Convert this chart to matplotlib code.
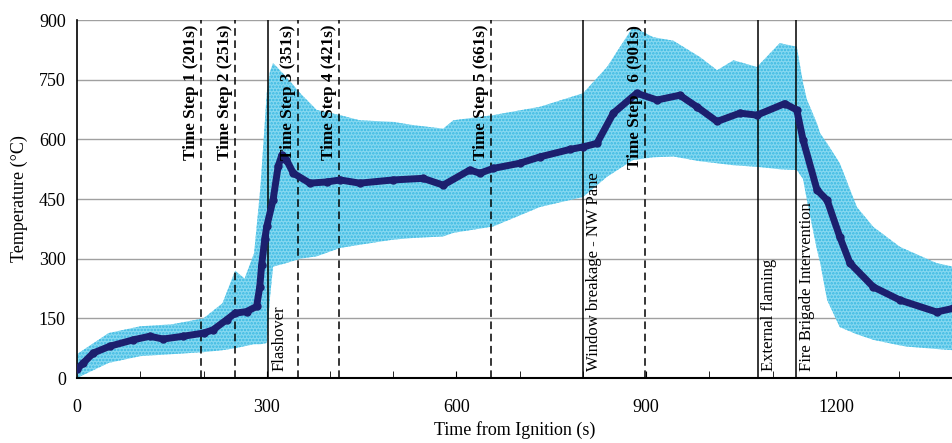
import matplotlib
matplotlib.use("Agg")
import matplotlib.pyplot as plt

# Mean temperature (time s, temp °C)
mean_t = [0, 10, 26, 52, 89, 115, 136, 168, 200, 215, 237, 250, 268, 284, 289, 292, 297,
          300, 310, 318, 324, 331, 342, 368, 395, 416, 447, 500, 547, 579, 621, 637, 658,
          700, 732, 780, 800, 822, 848, 885, 917, 953, 980, 1012, 1048, 1075, 1119, 1138,
          1148, 1170, 1186, 1206, 1222, 1259, 1301, 1359, 1385]
mean_T = [22, 38, 63, 80, 96, 105, 98, 105, 113, 121, 147, 163, 167, 180, 230, 285, 350,
          381, 448, 532, 561, 549, 515, 490, 493, 498, 490, 498, 502, 485, 523, 515, 527,
          540, 556, 575, 581, 590, 666, 716, 699, 711, 682, 645, 666, 661, 690, 674,
          598, 473, 447, 355, 289, 229, 196, 166, 175]

# Band (upper / lower)
band_t = [0, 50, 100, 150, 200, 230, 250, 265, 280, 290, 300, 305, 310, 331, 353, 379,
          416, 447, 500, 531, 579, 595, 658, 732, 800, 838, 879, 911, 943, 985, 1012,
          1038, 1075, 1111, 1138, 1148, 1154, 1170, 1175, 1186, 1206, 1233, 1259, 1301,
          1312, 1359, 1385]
band_hi = [60, 113, 130, 135, 150, 188, 270, 250, 314, 480, 716, 770, 792, 757, 716, 674,
           661, 648, 644, 636, 627, 648, 661, 682, 716, 782, 883, 857, 848, 807, 774,
           799, 782, 842, 833, 741, 700, 640, 615, 590, 540, 430, 380, 330,
           322, 289, 280]
band_lo = [0, 38, 55, 60, 65, 70, 75, 80, 85, 85, 88, 200, 280, 289, 300, 306,
           327, 335, 348, 352, 356, 365, 381, 430, 455, 506, 548, 555, 557, 545, 540,
           535, 531, 525, 523, 500, 447, 322, 290, 196, 128, 110, 96, 82,
           79, 73, 70]

step_t = [196, 250, 349, 414, 654, 898]
step_labels = ["Time Step 1 (201s)", "Time Step 2 (251s)", "Time Step 3 (351s)",
               "Time Step 4 (421s)", "Time Step 5 (661s)", "Time Step   6 (901s)"]
event_t = [302, 800, 1076, 1137]
event_labels = ["Flashover", "Window breakage - NW Pane", "External flaming",
                "Fire Brigade Intervention"]

xticks = [0, 300, 600, 900, 1200]
yticks = [0, 150, 300, 450, 600, 750, 900]

plt.rcParams['font.family'] = ['Liberation Serif', 'DejaVu Serif']
plt.rcParams['hatch.linewidth'] = 1.2

fig = plt.figure(figsize=(9.53, 4.43), dpi=100)
ax = fig.add_axes([0.0808, 0.1467, 0.9192, 0.808])

ax.fill_between(band_t, band_lo, band_hi, facecolor='#86d8f0', edgecolor='#38b8e2',
                hatch='.....', linewidth=0, zorder=2)
ax.plot(mean_t, mean_T, color='#1c1f6e', lw=5, marker='o', ms=5, zorder=4,
        solid_capstyle='round')

for t, lab in zip(step_t, step_labels):
    ax.axvline(t, color='black', ls=(0, (5, 3)), lw=1.1, zorder=3)
    ax.text(t - 3, 888, lab, rotation=90, ha='right', va='top', fontsize=12.3,
            fontweight='bold', zorder=5)
for t, lab in zip(event_t, event_labels):
    ax.axvline(t, color='black', ls='-', lw=1.1, zorder=3)
    ax.text(t + 5, 18, lab, rotation=90, ha='left', va='bottom', fontsize=12, zorder=5)

ax.set_xlim(0, 1385)
ax.set_ylim(0, 900)
ax.set_xticks(xticks)
ax.set_xticks(range(0, 1385, 100), minor=True)
ax.set_yticks(yticks)
ax.yaxis.grid(True, color='#a0a0a0', lw=1)
ax.set_axisbelow(True)
ax.tick_params(axis='x', which='both', direction='in', length=5, labelsize=13, pad=15)
ax.tick_params(axis='y', length=0, labelsize=13, pad=8)
for s in ['top', 'right']:
    ax.spines[s].set_visible(False)
ax.spines['left'].set_linewidth(1.2)
ax.spines['bottom'].set_linewidth(1.5)
ax.set_xlabel("Time from Ignition (s)", fontsize=13, labelpad=4)
ax.set_ylabel("Temperature (°C)", fontsize=13, labelpad=8)

fig.savefig("out.png", dpi=100)
